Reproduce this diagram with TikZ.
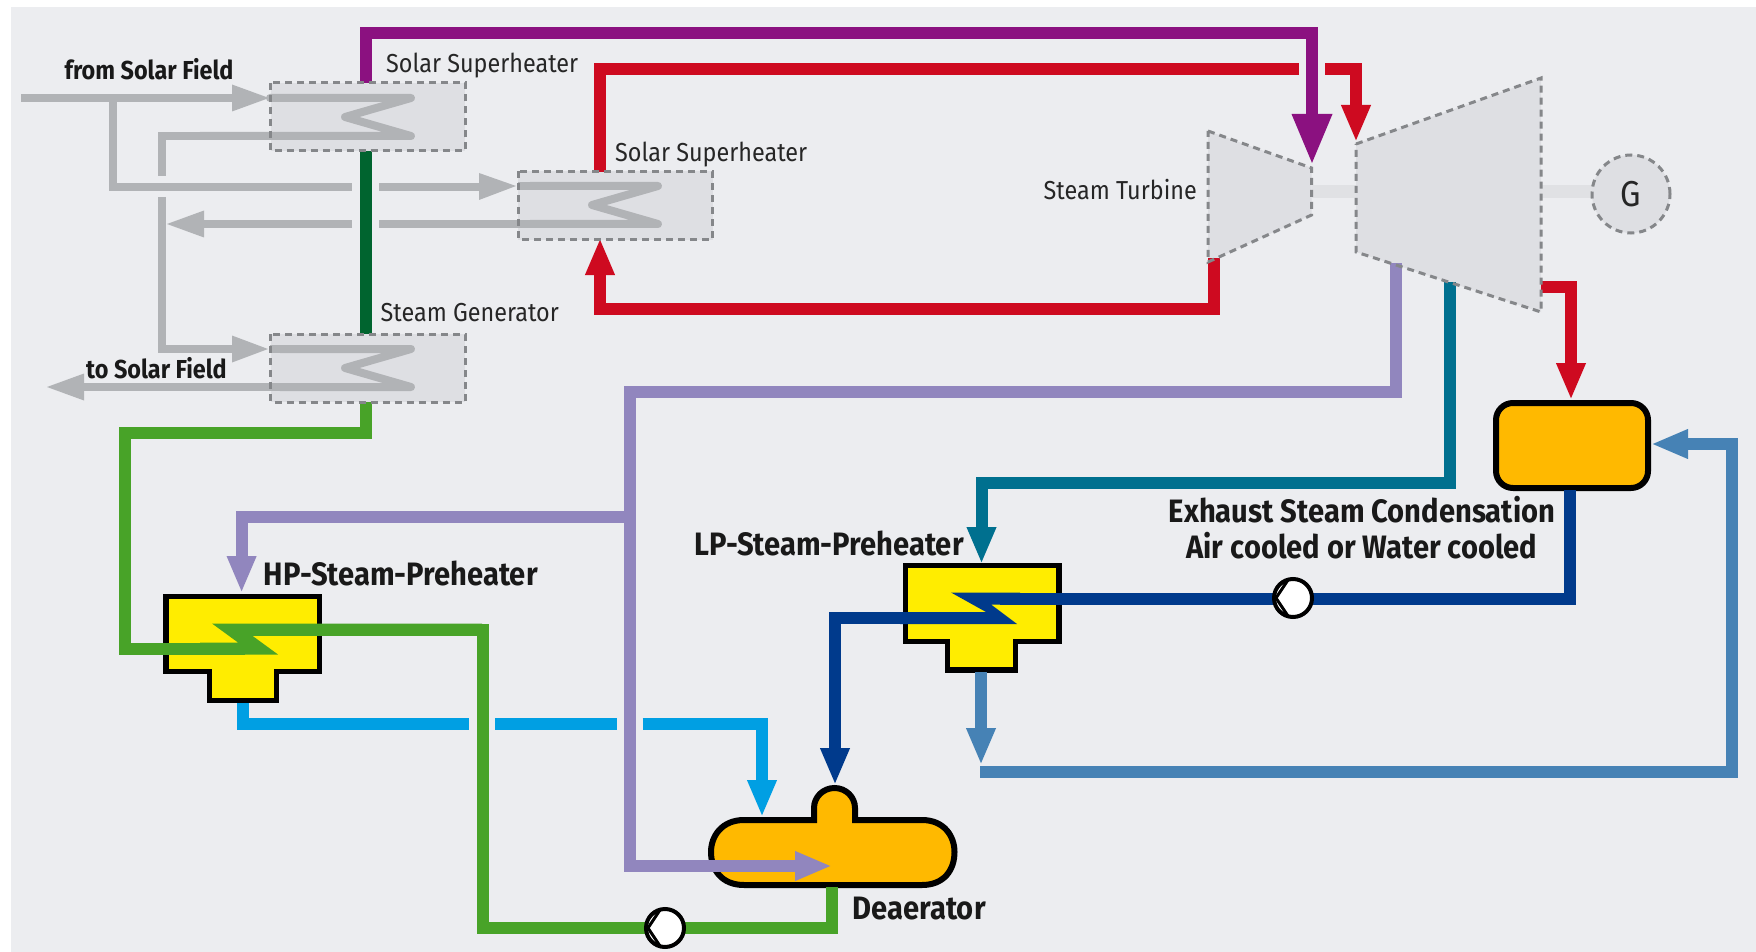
\documentclass[tikz,border=0pt]{standalone}
\usepackage{fontspec}
\setmainfont[FakeStretch=0.9]{Fira Sans}
\usetikzlibrary{arrows.meta}

\definecolor{panelbg}{HTML}{ECEDF0}
\definecolor{boxfill}{HTML}{DEDFE3}
\definecolor{pipegray}{HTML}{B1B3B6}
\definecolor{dashgray}{HTML}{85878A}
\definecolor{shaftgray}{HTML}{E0E1E4}
\definecolor{steamviolet}{HTML}{8B1180}
\definecolor{steamred}{HTML}{CE0A20}
\definecolor{darkgreen}{HTML}{00642F}
\definecolor{feedgreen}{HTML}{48A328}
\definecolor{bleedviolet}{HTML}{9186BE}
\definecolor{bleedteal}{HTML}{00708F}
\definecolor{condnavy}{HTML}{003A8C}
\definecolor{drainblue}{HTML}{009FE3}
\definecolor{drainsteel}{HTML}{4682B5}
\definecolor{heateryellow}{HTML}{FFED00}
\definecolor{vesselorange}{HTML}{FFB900}

\tikzset{
  pipe/.style={line width=12pt},
  thinpipe/.style={line width=8pt, pipegray},
  coil/.style={thinpipe, line join=round, line cap=round},
  tip/.style={-{Triangle[length=37pt, width=27pt]}},
  bigtip/.style={-{Triangle[length=51pt, width=37pt]}},
  grayfill/.style={fill=boxfill},
  dashline/.style={draw=dashgray, line width=3pt, dash pattern=on 7pt off 5pt},
  hxbox/.style={grayfill, minimum width=194.5pt, minimum height=68pt, inner sep=0pt, outer sep=0pt},
  blackline/.style={draw=black, line width=5.5pt, line join=miter},
  pumpnode/.style={circle, draw=black, line width=4pt, fill=white, minimum size=38pt, inner sep=0pt},
  thinlabel/.style={font=\fontsize{26}{26}\selectfont, text=black!85, inner sep=0pt},
  boldlabel/.style={font=\fontsize{26}{26}\selectfont\bfseries, text=black!90, inner sep=0pt},
  biglabel/.style={font=\fontsize{32.4}{33}\selectfont\bfseries, text=black!90, inner sep=0pt}
}

\begin{document}
\begin{tikzpicture}[x=1pt, y=-1pt]
  \useasboundingbox (0, 0) rectangle (1756, 952);
  \fill[white] (0, 0) rectangle (1756, 952);
  \fill[panelbg] (10.5, 7) rectangle (1756, 952);

  % Heat exchanger boxes
  \node[hxbox] (shOne) at (367.75, 117) {};
  \node[hxbox] (shTwo) at (615.25, 205.5) {};
  \node[hxbox] (sGen) at (367.75, 368) {};

  % Turbines and generator
  \draw[shaftgray, line width=13pt] (1311.6, 192) -- (1356, 192);
  \draw[shaftgray, line width=13pt] (1541, 192) -- (1595, 192);
  \fill[boxfill] (1208, 131) coordinate (hpTL) -- (1311.6, 168) coordinate (hpTR)
    -- (1311.6, 215) coordinate (hpBR) -- (1208, 262) coordinate (hpBL) -- cycle;
  \fill[boxfill] (1356, 144) coordinate (lpTL) -- (1541, 78) coordinate (lpTR)
    -- (1541, 312) coordinate (lpBR) -- (1356, 252) coordinate (lpBL) -- cycle;
  \node[circle, dashline, grayfill, minimum size=78pt, inner sep=0pt,
    font=\fontsize{36}{36}\selectfont, text=black!85] (gen) at (1631, 194) {G};

  % Free ends of the connectors
  \coordinate (fieldIn) at (21, 98);
  \coordinate (fieldOut) at (47, 387);
  \coordinate (shOneIn) at (269, 98);
  \coordinate (shTwoIn) at (516, 186);
  \coordinate (sGenIn) at (268, 349);
  \coordinate (hpIn) at (1312, 165);
  \coordinate (lpIn) at (1356, 142);

  % Solar field oil lines
  \draw[thinpipe] (fieldIn) -- (240, 98);
  \fill[pipegray] (shOneIn) -- (232, 84.5) -- (232, 111.5) -- cycle;
  \draw[thinpipe] (113, 98) -- (113, 187) -- (352, 187);
  \draw[thinpipe] (379, 187) -- (485, 187);
  \fill[pipegray] (shTwoIn) -- (479, 173) -- (479, 200) -- cycle;
  \draw[coil] (270, 98) -- (411, 98) -- (345, 117) -- (411, 136) -- (200, 136);
  \draw[thinpipe] (200, 136) -- (162, 136) -- (162, 176);
  \draw[coil] (530, 186) -- (658, 186) -- (592, 205) -- (658, 224) -- (530, 224);
  \draw[thinpipe] (518, 186) -- (530, 186);
  \draw[thinpipe] (530, 224) -- (379, 224);
  \draw[thinpipe] (352, 224) -- (200, 224);
  \fill[pipegray] (167, 224) -- (204, 210.5) -- (204, 237.5) -- cycle;
  \draw[thinpipe] (162, 197) -- (162, 349) -- (240, 349);
  \fill[pipegray] (sGenIn) -- (232, 335.5) -- (232, 362.5) -- cycle;
  \draw[coil] (280, 349) -- (411, 349) -- (345, 368) -- (411, 387) -- (280, 387);
  \draw[thinpipe] (270, 349) -- (280, 349);
  \draw[thinpipe] (280, 387) -- (80, 387);
  \fill[pipegray] (fieldOut) -- (84, 373.5) -- (84, 400.5) -- cycle;

  % Steam lines
  \draw[pipe, darkgreen] (366, 151) -- (366, 334);
  \draw[pipe, steamviolet, bigtip] (365.5, 83) -- (365.5, 33) -- (1312, 33) -- (hpIn);
  \draw[pipe, steamred] (600, 172) -- (600, 69) -- (1299, 69);
  \draw[pipe, steamred, tip] (1325, 69) -- (1356, 69) -- (lpIn);
  \draw[pipe, steamred, tip] (1214, 258) -- (1214, 309) -- (600, 309) -- (600, 238);

  % Condenser and preheaters
  \node[draw=black, line width=6pt, fill=vesselorange, rounded corners=17pt,
    minimum width=152pt, minimum height=85pt, inner sep=0pt] (cond) at (1572, 445.5) {};
  \draw[blackline, fill=heateryellow] (166, 596.5) -- (319.5, 596.5) -- (319.5, 671.5) -- (276.5, 671.5)
    -- (276.5, 700.5) -- (209.5, 700.5) -- (209.5, 671.5) -- (166, 671.5) -- cycle;
  \draw[blackline, fill=heateryellow] (905.5, 565.5) -- (1059, 565.5) -- (1059, 641.5) -- (1015.5, 641.5)
    -- (1015.5, 670) -- (947.5, 670) -- (947.5, 641.5) -- (905.5, 641.5) -- cycle;

  % Deaerator
  \draw[draw=black, line width=6pt, fill=vesselorange]
    (814, 820) -- (814, 808) arc[start angle=180, end angle=0, x radius=20.5, y radius=-20]
    -- (855, 820) -- (922, 820) .. controls (944, 820) and (954.5, 836) .. (954.5, 852)
    .. controls (954.5, 870) and (944, 885) .. (922, 885) -- (744, 885)
    .. controls (722, 885) and (711, 870) .. (711, 852)
    .. controls (711, 836) and (722, 820) .. (744, 820) -- cycle;

  % Feed water
  \draw[pipe, feedgreen] (366, 402) -- (366, 433) -- (124.5, 433) -- (124.5, 648.5) -- (245, 648.5);
  \fill[feedgreen] (482, 623.5) -- (212, 623.5) -- (238, 642.5) -- (200, 642.5) -- (200, 654.5) -- (278, 654.5)
    -- (252, 635.5) -- (482, 635.5) -- cycle;
  \draw[pipe, feedgreen] (250, 629.5) -- (482.5, 629.5) -- (482.5, 928) -- (832, 928) -- (832, 887);

  % Bleed lines
  \draw[pipe, bleedviolet, tip] (1396, 263) -- (1396, 392) -- (630, 392) -- (630, 866) -- (832, 866);
  \draw[pipe, bleedviolet, tip] (630, 517) -- (241.6, 517) -- (241.6, 593);
  \draw[pipe, bleedteal, tip] (1450, 282) -- (1450, 482.5) -- (981.5, 482.5) -- (981.5, 564);

  % Condensate
  \draw[pipe, condnavy] (1569.5, 490) -- (1569.5, 598.5) -- (1000, 598.5);
  \fill[condnavy] (1020, 592.5) -- (951, 592.5) -- (986, 612) -- (900, 612) -- (900, 624) -- (1017, 624)
    -- (991, 604.5) -- (1020, 604.5) -- cycle;
  \draw[pipe, condnavy, tip] (905, 618) -- (835, 618) -- (835, 785);

  % Drains
  \draw[pipe, drainblue] (243, 703) -- (243, 724) -- (469, 724);
  \draw[pipe, drainblue] (495, 724) -- (616.5, 724);
  \draw[pipe, drainblue, tip] (642.5, 724) -- (762, 724) -- (762, 817);
  \draw[pipe, drainsteel, tip] (981, 672) -- (981, 765);
  \draw[pipe, drainsteel, tip] (980, 771.5) -- (1732, 771.5) -- (1732, 444) -- (1651, 444);
  \draw[pipe, steamred, tip] (1541, 287) -- (1571, 287) -- (1571, 400);

  % Dashed outlines on top of the lines
  \foreach \boxname in {shOne, shTwo, sGen}
    \draw[dashline] (\boxname.north west) rectangle (\boxname.south east);
  \draw[dashline] (hpTL) -- (hpTR) -- (hpBR) -- (hpBL) -- cycle;
  \draw[dashline] (lpTL) -- (lpTR) -- (lpBR) -- (lpBL) -- cycle;

  % Pumps
  \node[pumpnode] (pumpCond) at (1293, 598) {};
  \draw[black, line width=3pt] (1288, 580) -- (1276, 598) -- (1288, 616);
  \node[pumpnode] (pumpFeed) at (665, 928) {};
  \draw[black, line width=3pt] (660, 910) -- (648, 928) -- (660, 946);

  % Labels
  \node[boldlabel, anchor=west] (lblFrom) at (64.5, 69) {from Solar Field};
  \node[boldlabel, anchor=west] (lblTo) at (86, 368) {to Solar Field};
  \node[thinlabel, anchor=west] (lblShOne) at (386, 66) {Solar Superheater};
  \node[thinlabel, anchor=west] (lblShTwo) at (615, 155) {Solar Superheater};
  \node[thinlabel, anchor=west] (lblGen) at (380.5, 313) {Steam Generator};
  \node[thinlabel, anchor=east] (lblTurb) at (1197, 190) {Steam Turbine};
  \node[biglabel, anchor=west] (lblHp) at (263.5, 573) {HP-Steam-Preheater};
  \node[biglabel, anchor=west] (lblLp) at (694, 543) {LP-Steam-Preheater};
  \node[biglabel] (lblCondA) at (1362, 510) {Exhaust Steam Condensation};
  \node[biglabel] (lblCondB) at (1362, 546) {Air cooled or Water cooled};
  \node[biglabel, anchor=west] (lblDea) at (852.5, 909) {Deaerator};
\end{tikzpicture}
\end{document}
